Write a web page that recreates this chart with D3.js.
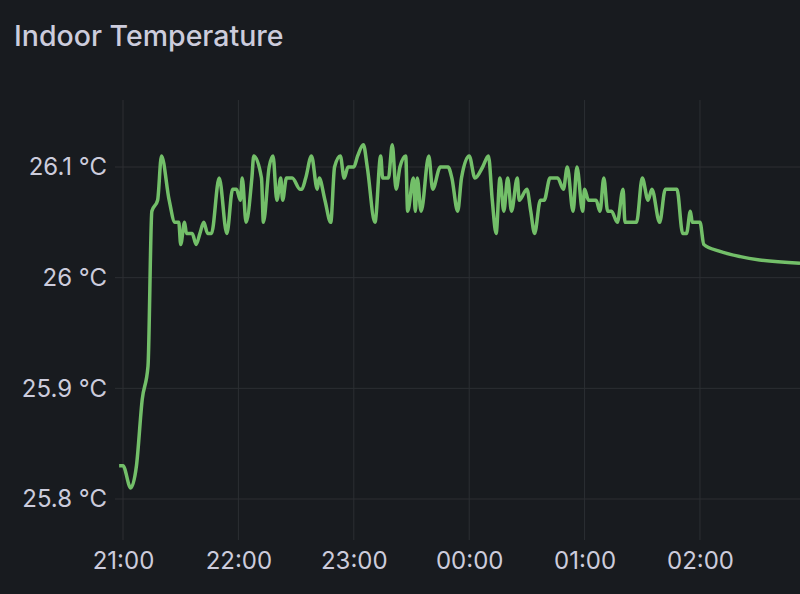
<!DOCTYPE html><html><head><meta charset="utf-8"><script src="https://cdn.jsdelivr.net/npm/d3@7"></script>
<style>body{margin:0;background:#181b1f;}svg{display:block}</style></head><body><svg width="800" height="594"></svg><script>
const minutes=[-2,0,4,7,10,13,15,18,20,24,27,29,30,32,33,36,38,40,42,44,46,50,54,57,59,61,62,64,67,68,72,73,76,78,80,82,83,85,88,92,93,95,98,101,102,105,108,110,113,115,117,120,122,125,127,131,134,135,138,140,142,144,147,148,151,152,153,155,159,161,165,169,171,174,176,180,183,187,190,192,194,196,198,200,202,205,206,210,212,214,217,219,222,226,229,231,234,236,239,240,242,246,248,250,252,254,257,260,261,265,267,270,273,275,279,282,285,288,291,293,295,296,300,302,310,321,331,352];
const temps=[25.83,25.83,25.81,25.83,25.89,25.92,26.06,26.07,26.11,26.07,26.05,26.05,26.03,26.05,26.04,26.04,26.03,26.04,26.05,26.04,26.04,26.09,26.04,26.08,26.08,26.07,26.09,26.05,26.09,26.11,26.09,26.05,26.1,26.11,26.07,26.09,26.07,26.09,26.09,26.08,26.08,26.09,26.11,26.08,26.09,26.07,26.05,26.1,26.11,26.09,26.1,26.1,26.11,26.12,26.1,26.05,26.11,26.09,26.09,26.12,26.08,26.1,26.11,26.06,26.09,26.06,26.09,26.06,26.11,26.08,26.1,26.1,26.09,26.06,26.09,26.11,26.09,26.1,26.11,26.07,26.04,26.09,26.06,26.09,26.06,26.09,26.07,26.08,26.06,26.04,26.07,26.07,26.09,26.09,26.08,26.1,26.06,26.1,26.06,26.08,26.07,26.07,26.06,26.09,26.06,26.06,26.05,26.08,26.05,26.05,26.05,26.09,26.07,26.08,26.05,26.08,26.08,26.08,26.04,26.04,26.06,26.05,26.05,26.03,26.024,26.019,26.016,26.013];
const yTicks=[25.8,25.9,26,26.1];
const xTickLabels=["21:00","22:00","23:00","00:00","01:00","02:00"];
const base=new Date(2024,0,1,21,0);
const svg=d3.select("svg");
const x=d3.scaleTime().domain([base,new Date(+base+352*60000)]).range([123,800]);
const y=d3.scaleLinear().domain([25.8,26.1]).range([499,167]);
svg.append("text").attr("x",14).attr("y",46).attr("fill","#ccccdc").attr("font-family","Inter, sans-serif").attr("font-size",28.5).attr("font-weight",500).text("Indoor Temperature");
const xt=xTickLabels.map((l,i)=>new Date(+base+i*3600000));
const g=svg.append("g").attr("stroke","#2c2f33").attr("stroke-width",1);
xt.forEach(t=>g.append("line").attr("x1",x(t)).attr("x2",x(t)).attr("y1",100).attr("y2",540));
yTicks.forEach(v=>g.append("line").attr("x1",115).attr("x2",800).attr("y1",y(v)).attr("y2",y(v)));
const ya=svg.append("g").attr("transform","translate(115,0)").call(d3.axisLeft(y).tickValues(yTicks).tickSize(0).tickPadding(8).tickFormat(d=>d3.format("")(+d.toFixed(1))+" °C"));
const xa=svg.append("g").attr("transform","translate(0,540)").call(d3.axisBottom(x).tickValues(xt).tickSize(0).tickPadding(12).tickFormat((d,i)=>xTickLabels[i]));
[ya,xa].forEach(a=>{a.select(".domain").remove();a.selectAll("text").attr("fill","#ccccdc").attr("font-family","Inter, sans-serif").attr("font-size",24);});
const data=minutes.map((m,i)=>[new Date(+base+m*60000),temps[i]]);
svg.append("path").datum(data).attr("fill","none").attr("stroke","#73bf69").attr("stroke-width",3.5).attr("stroke-linejoin","round")
 .attr("d",d3.line().x(d=>x(d[0])).y(d=>y(d[1])).curve(d3.curveMonotoneX));
</script></body></html>
